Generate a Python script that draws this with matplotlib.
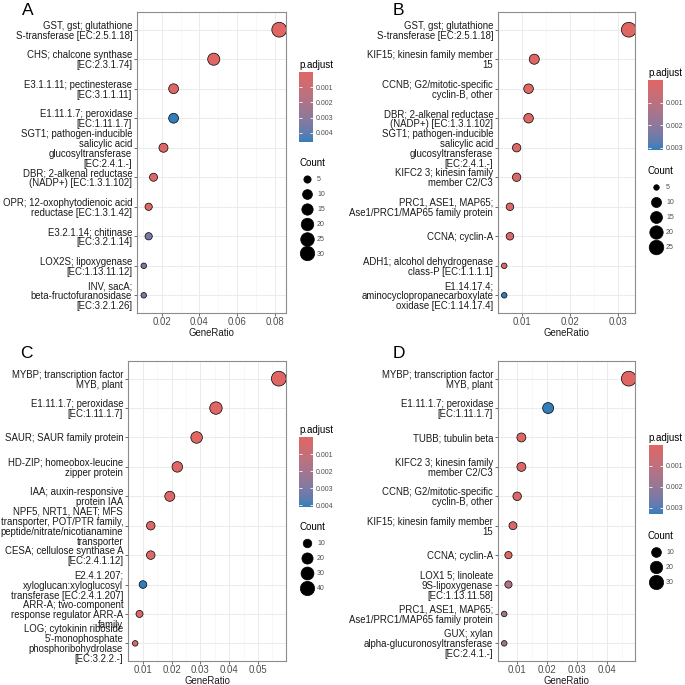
import numpy as np
import matplotlib
matplotlib.use("Agg")
import matplotlib.pyplot as plt
from matplotlib import colors as mcolors
from matplotlib.cm import ScalarMappable
from matplotlib.lines import Line2D
from matplotlib.ticker import MultipleLocator, FormatStrFormatter

plt.rcParams["font.family"] = ["Liberation Sans", "DejaVu Sans"]

W = H = 685
DPI = 100
PX = 72 / DPI  # points per pixel

# ---- panel A ----
labels_a = [
    "GST, gst; glutathione\nS-transferase [EC:2.5.1.18]",
    "CHS; chalcone synthase\n[EC:2.3.1.74]",
    "E3.1.1.11; pectinesterase\n[EC:3.1.1.11]",
    "E1.11.1.7; peroxidase\n[EC:1.11.1.7]",
    "SGT1; pathogen-inducible\nsalicylic acid\nglucosyltransferase\n[EC:2.4.1.-]",
    "DBR; 2-alkenal reductase\n(NADP+) [EC:1.3.1.102]",
    "OPR; 12-oxophytodienoic acid\nreductase [EC:1.3.1.42]",
    "E3.2.1.14; chitinase\n[EC:3.2.1.14]",
    "LOX2S; lipoxygenase\n[EC:1.13.11.12]",
    "INV, sacA;\nbeta-fructofuranosidase\n[EC:3.2.1.26]",
]
ratio_a = [0.0825, 0.0476, 0.0262, 0.0262, 0.0208, 0.0155, 0.0129, 0.0129, 0.0103, 0.0103]
count_a = [32, 18, 10, 10, 8, 6, 5, 5, 4, 4]
padj_a = [1e-5, 2e-5, 1e-4, 0.0046, 1e-4, 1.2e-4, 1.2e-4, 0.0035, 0.0036, 0.0036]
breaks_a = [5, 10, 15, 20, 25, 30]

# ---- panel B ----
labels_b = [
    "GST, gst; glutathione\nS-transferase [EC:2.5.1.18]",
    "KIF15; kinesin family member\n15",
    "CCNB; G2/mitotic-specific\ncyclin-B, other",
    "DBR; 2-alkenal reductase\n(NADP+) [EC:1.3.1.102]",
    "SGT1; pathogen-inducible\nsalicylic acid\nglucosyltransferase\n[EC:2.4.1.-]",
    "KIFC2 3; kinesin family\nmember C2/C3",
    "PRC1, ASE1, MAP65;\nAse1/PRC1/MAP65 family protein",
    "CCNA; cyclin-A",
    "ADH1; alcohol dehydrogenase\nclass-P [EC:1.1.1.1]",
    "E1.14.17.4;\naminocyclopropanecarboxylate\noxidase [EC:1.14.17.4]",
]
ratio_b = [0.0323, 0.0125, 0.0113, 0.0113, 0.0088, 0.0088, 0.0074, 0.0074, 0.0062, 0.0062]
count_b = [26, 10, 9, 9, 7, 7, 6, 6, 5, 5]
padj_b = [1e-6, 5e-5, 5e-5, 5e-5, 1.5e-4, 1.5e-4, 1.5e-4, 1.5e-4, 2e-4, 0.0031]
breaks_b = [5, 10, 15, 20, 25]

# ---- panel C ----
labels_c = [
    "MYBP; transcription factor\nMYB, plant",
    "E1.11.1.7; peroxidase\n[EC:1.11.1.7]",
    "SAUR; SAUR family protein",
    "HD-ZIP; homeobox-leucine\nzipper protein",
    "IAA; auxin-responsive\nprotein IAA",
    "NPF5, NRT1, NAET; MFS\ntransporter, POT/PTR family,\npeptide/nitrate/nicotianamine\ntransporter",
    "CESA; cellulose synthase A\n[EC:2.4.1.12]",
    "E2.4.1.207;\nxyloglucan:xyloglucosyl\ntransferase [EC:2.4.1.207]",
    "ARR-A; two-component\nresponse regulator ARR-A\nfamily",
    "LOG; cytokinin riboside\n5'-monophosphate\nphosphoribohydrolase\n[EC:3.2.2.-]",
]
ratio_c = [0.0572, 0.0354, 0.0287, 0.0220, 0.0194, 0.0128, 0.0128, 0.0101, 0.0089, 0.0074]
count_c = [44, 27, 22, 17, 15, 10, 10, 8, 7, 6]
padj_c = [1e-6, 1e-5, 1e-5, 5e-5, 5e-5, 1.5e-4, 1.5e-4, 0.0041, 2e-4, 2e-4]
breaks_c = [10, 20, 30, 40]

# ---- panel D ----
labels_d = [
    "MYBP; transcription factor\nMYB, plant",
    "E1.11.1.7; peroxidase\n[EC:1.11.1.7]",
    "TUBB; tubulin beta",
    "KIFC2 3; kinesin family\nmember C2/C3",
    "CCNB; G2/mitotic-specific\ncyclin-B, other",
    "KIF15; kinesin family member\n15",
    "CCNA; cyclin-A",
    "LOX1 5; linoleate\n9S-lipoxygenase\n[EC:1.13.11.58]",
    "PRC1, ASE1, MAP65;\nAse1/PRC1/MAP65 family protein",
    "GUX; xylan\nalpha-glucuronosyltransferase\n[EC:2.4.1.-]",
]
ratio_d = [0.0471, 0.0203, 0.0114, 0.0114, 0.0100, 0.0086, 0.0071, 0.0071, 0.0057, 0.0057]
count_d = [33, 14, 8, 8, 7, 6, 5, 5, 4, 4]
padj_d = [1e-6, 0.0033, 1e-4, 1e-4, 1.5e-4, 1.5e-4, 2e-4, 0.0014, 0.0017, 0.0017]
breaks_d = [10, 20, 30]


# gradient red -> blue interpolated in Lab, like ggplot's scale_color_gradient
WHITE = np.array([0.95047, 1.0, 1.08883])
M = np.array([[0.4124, 0.3576, 0.1805],
              [0.2126, 0.7152, 0.0722],
              [0.0193, 0.1192, 0.9505]])


def to_lab(hexcol):
    rgb = np.array(mcolors.to_rgb(hexcol))
    lin = np.where(rgb <= 0.04045, rgb / 12.92, ((rgb + 0.055) / 1.055) ** 2.4)
    xyz = M @ lin / WHITE
    f = np.where(xyz > 0.008856, np.cbrt(xyz), 7.787 * xyz + 16 / 116)
    return np.array([116 * f[1] - 16, 500 * (f[0] - f[1]), 200 * (f[1] - f[2])])


def from_lab(lab):
    fy = (lab[0] + 16) / 116
    f = np.array([fy + lab[1] / 500, fy, fy - lab[2] / 200])
    xyz = np.where(f ** 3 > 0.008856, f ** 3, (f - 16 / 116) / 7.787) * WHITE
    lin = np.linalg.solve(M, xyz)
    rgb = np.where(lin <= 0.0031308, 12.92 * lin, 1.055 * np.abs(lin) ** (1 / 2.4) - 0.055)
    return np.clip(rgb, 0, 1)


lab_lo, lab_hi = to_lab("#e06663"), to_lab("#327eba")
cmap = mcolors.ListedColormap(
    [from_lab(lab_lo + t * (lab_hi - lab_lo)) for t in np.linspace(0, 1, 256)]
)


def fig_rect(x0, y0, x1, y1):
    return [x0 / W, 1 - y1 / H, (x1 - x0) / W, (y1 - y0) / H]


def diam(c, cmin, cmax):
    # area scale, range 3..8 (ggplot size units) -> points
    c = np.asarray(c, float)
    return 1.85 * (3 + 5 * np.sqrt((c - cmin) / (cmax - cmin))) * PX


def draw_panel(fig, letter, letter_xy, labels, ratio, count, padj, breaks,
               major, ax_box, cbar_box, count_xy):
    fig.text(letter_xy[0] / W, 1 - letter_xy[1] / H, letter, fontsize=12.5,
             ha="left", va="baseline")

    ax = fig.add_axes(fig_rect(*ax_box))
    n = len(labels)
    ypos = np.arange(n, 0, -1)
    cmin, cmax = min(count), max(count)
    norm = mcolors.Normalize(vmin=min(padj), vmax=max(padj))
    ax.scatter(ratio, ypos, s=diam(count, cmin, cmax) ** 2, c=padj, cmap=cmap,
               norm=norm, edgecolors="black", linewidths=0.5, zorder=3)

    lo, hi = min(ratio), max(ratio)
    pad = 0.05 * (hi - lo)
    ax.set_xlim(lo - pad, hi + pad)
    ax.set_ylim(0.4, n + 0.6)
    ax.set_yticks(ypos)
    ax.set_yticklabels(labels, linespacing=1.0)
    ax.xaxis.set_major_locator(MultipleLocator(major))
    ax.xaxis.set_minor_locator(MultipleLocator(major / 2))
    ax.xaxis.set_major_formatter(FormatStrFormatter("%.2f"))
    ax.set_xlabel("GeneRatio", fontsize=6.9, labelpad=0.6, color="#1a1a1a")

    ax.set_axisbelow(True)
    ax.grid(which="major", color="#EBEBEB", linewidth=0.7)
    ax.grid(which="minor", axis="x", color="#F4F4F4", linewidth=0.4)
    ax.tick_params(which="major", length=2, width=0.5, color="#333333",
                   labelsize=6.9, pad=1.5)
    ax.tick_params(axis="x", labelcolor="#4d4d4d", pad=1.0)
    ax.tick_params(axis="y", labelcolor="#1a1a1a")
    ax.tick_params(which="minor", length=0)
    for sp in ax.spines.values():
        sp.set_color("#8c8c8c")
        sp.set_linewidth(0.8)

    # colour bar (smallest p.adjust on top)
    cax = fig.add_axes(fig_rect(*cbar_box))
    cb = fig.colorbar(ScalarMappable(norm=norm, cmap=cmap), cax=cax)
    cb.outline.set_visible(False)
    cb.locator = MultipleLocator(0.001)
    cb.formatter = FormatStrFormatter("%.3f")
    cb.update_ticks()
    cb.minorticks_off()
    cax.invert_yaxis()
    cax.tick_params(axis="y", direction="in", length=2.2, width=0.6, color="white",
                    left=True, right=True, labelleft=False, labelright=True,
                    labelsize=5, labelcolor="#4d4d4d", pad=2)
    cax.set_title("p.adjust", loc="left", fontsize=7, pad=3)

    # size legend
    handles = [Line2D([], [], ls="", marker="o", ms=d, mfc="black", mec="black",
                      mew=0.5) for d in diam(breaks, cmin, cmax)]
    fig.legend(handles, [str(b) for b in breaks], loc="upper left",
               bbox_to_anchor=(count_xy[0] / W, 1 - count_xy[1] / H),
               frameon=False, title="Count", title_fontsize=7, fontsize=5,
               alignment="left", borderpad=0, borderaxespad=0,
               handlelength=2.2, handletextpad=0.4, labelspacing=1.15,
               labelcolor="#4d4d4d")


fig = plt.figure(figsize=(W / DPI, H / DPI), dpi=DPI)

draw_panel(fig, "A", (21.5, 15), labels_a, ratio_a, count_a, padj_a, breaks_a, 0.02,
           (137, 12, 286, 313), (299, 72, 313, 142), (299, 158))
draw_panel(fig, "B", (392.5, 15), labels_b, ratio_b, count_b, padj_b, breaks_b, 0.01,
           (498, 12, 635, 313), (648, 80, 662.5, 150), (648, 166))
draw_panel(fig, "C", (20.5, 358), labels_c, ratio_c, count_c, padj_c, breaks_c, 0.01,
           (128, 361, 286, 661), (299, 437, 313, 507), (299, 522))
draw_panel(fig, "D", (392.5, 358), labels_d, ratio_d, count_d, padj_d, breaks_d, 0.01,
           (498, 361, 635, 661), (648.5, 445, 662.5, 514), (648, 531))

fig.savefig("out.png", dpi=DPI)
